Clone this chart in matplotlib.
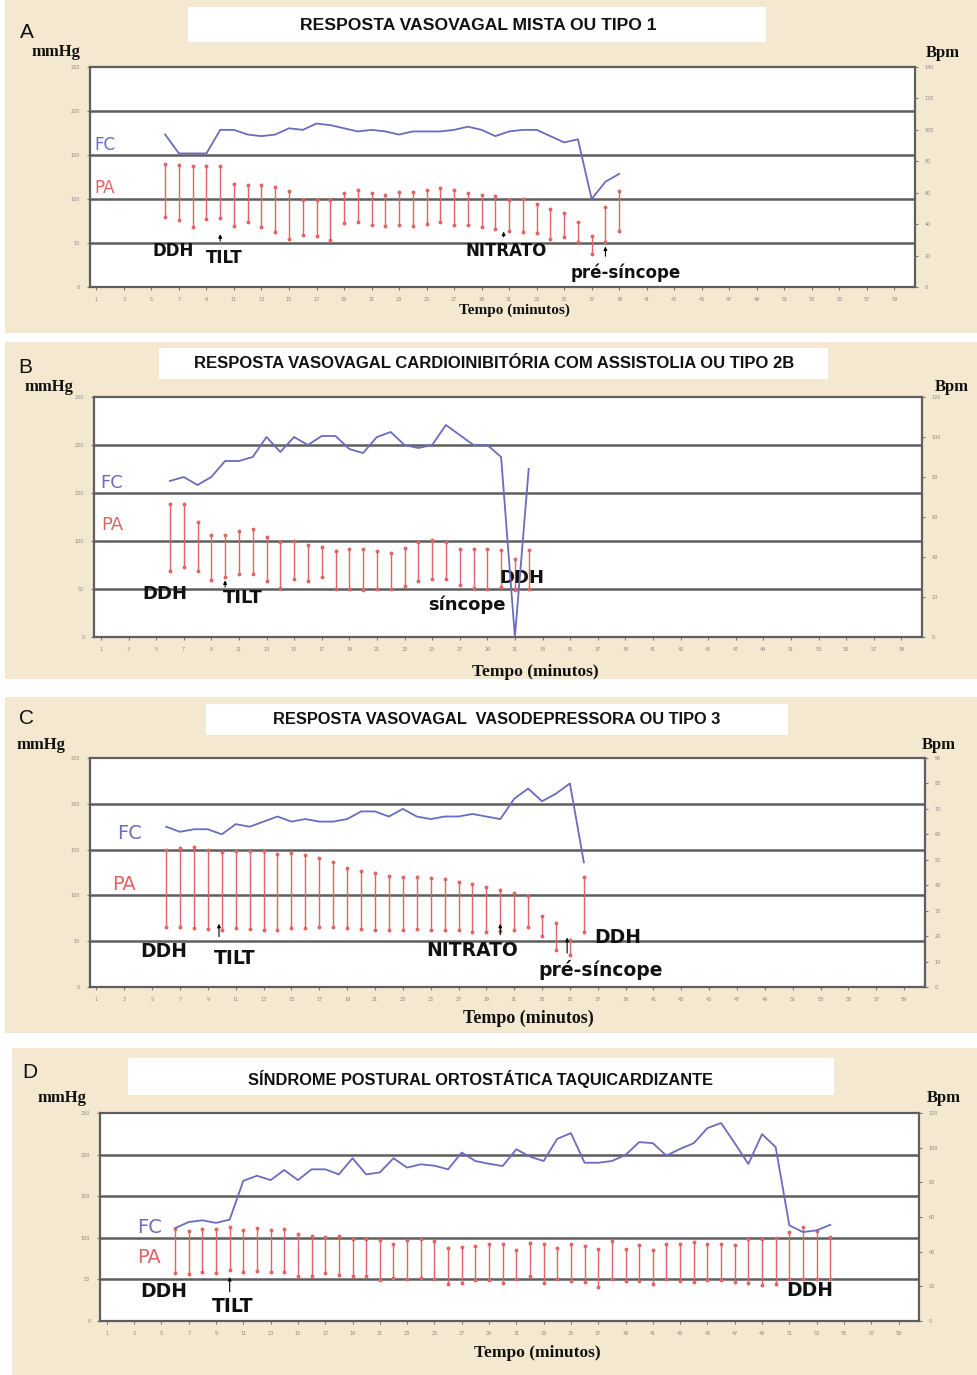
import matplotlib
matplotlib.use('Agg')
import matplotlib.pyplot as plt
from matplotlib.patches import Rectangle

W, H, DPI = 977, 1375, 100

# ---------------- data ----------------
# Panel A
min_A = list(range(6, 40))
fc_A = [97, 85, 85, 85, 100, 100, 97, 96, 97, 101, 100, 104, 103, 101, 99, 100, 99, 97,
        99, 99, 99, 100, 102, 100, 96, 99, 100, 100, 96, 92, 94, 56, 67, 72]
pas_A = [140, 139, 137, 137, 137, 117, 116, 116, 114, 109, 99, 99, 99, 107, 110, 107, 105,
         108, 108, 110, 113, 110, 107, 105, 103, 99, 100, 94, 89, 84, 74, 58, 91, 109]
pad_A = [80, 76, 68, 77, 78, 69, 74, 68, 62, 55, 59, 58, 53, 73, 74, 71, 69, 71, 69, 72,
         74, 71, 71, 68, 66, 64, 63, 61, 55, 57, 51, 38, 51, 64]

# Panel B
min_B = list(range(6, 33))
fc_B = [78, 80, 76, 80, 88, 88, 90, 100, 92.5, 100, 96, 100.5, 100.5, 94, 92, 100, 102.5,
        96, 94.5, 96, 106, 101, 96, 96, 90, 0, 84]
pas_B = [139, 139, 120, 106, 106, 110, 112, 104, 99, 100, 96, 94, 90, 92, 92, 90, 88, 93,
         99, 101, 99, 92, 92, 92, 91, 81, 91]
pad_B = [69, 73, 69, 59, 63, 66, 66, 58, 51, 60, 58, 62, 50, 50, 49, 50, 50, 53, 58, 60,
         60, 54, 51, 50, 52, 49, 50]

# Panel C
min_C = list(range(6, 37))
fc_C = [63, 61, 62, 62, 60, 64, 63, 65, 67, 65, 66, 65, 65, 66, 69, 69, 67, 70, 67, 66,
        67, 67, 68, 67, 66, 74, 78, 73, 76, 80, 49]
pas_C = [150, 152, 153, 150, 147, 148, 148, 148, 145, 146, 144, 141, 136, 130, 127, 124,
         121, 120, 120, 119, 118, 115, 112, 109, 106, 103, 99, 78, 70, 51, 120]
pad_C = [66, 65, 64, 63, 62, 64, 63, 62, 62, 64, 64, 65, 65, 64, 63, 62, 62, 62, 63, 62,
         62, 62, 60, 60, 61, 62, 66, 56, 40, 35, 60]

# Panel D
min_D = list(range(6, 55))
fc_D = [53.6, 57.1, 58.1, 56.6, 58.5, 80.9, 83.8, 81.3, 87.1, 81.3, 87.5, 87.5, 84.6, 93.9,
        84.6, 85.7, 93.9, 88.5, 90.4, 89.6, 87.5, 97.2, 92.3, 90.7, 89.4, 99.1, 94.8, 92.3,
        105.1, 108.4, 91.3, 91.3, 92.3, 95.8, 103.2, 102.6, 95.4, 99.3, 102.6, 111.3, 114.2,
        102.6, 90.6, 107.8, 100.3, 55.2, 51.3, 52.3, 55.5]
pas_D = [110, 108, 110, 111, 113, 109, 112, 109, 110, 104, 102, 101, 102, 99, 98, 97, 92,
         97, 98, 96, 88, 89, 90, 92, 92, 85, 94, 92, 88, 92, 90, 86, 96, 87, 91, 85, 92, 92,
         95, 92, 92, 91, 99, 98, 100, 107, 113, 108, 101]
pad_D = [58, 57, 59, 58, 61, 59, 60, 59, 59, 54, 54, 58, 55, 54, 54, 49, 52, 51, 52, 50,
         45, 46, 49, 49, 46, 50, 54, 46, 50, 48, 47, 41, 50, 48, 48, 44, 51, 48, 47, 49,
         49, 47, 46, 43, 44, 50, 50, 50, 50]

titles = ["RESPOSTA VASOVAGAL MISTA OU TIPO 1",
          "RESPOSTA VASOVAGAL CARDIOINIBITÓRIA COM ASSISTOLIA OU TIPO 2B",
          "RESPOSTA VASOVAGAL  VASODEPRESSORA OU TIPO 3",
          "SÍNDROME POSTURAL ORTOSTÁTICA TAQUICARDIZANTE"]
letters = ["A", "B", "C", "D"]
left_ticks = [0, 50, 100, 150, 200, 250]
right_ticks = [list(range(0, 141, 20)), list(range(0, 121, 20)),
               list(range(0, 91, 10)), list(range(0, 121, 20))]
x_ticks = list(range(1, 60, 2))

# ---------------- styling / layout ----------------
BEIGE = '#f4e9d0'
RED = '#e26464'
BLUE = '#6b6bbf'
GRID = '#5e5e5e'

fig = plt.figure(figsize=(W / DPI, H / DPI), dpi=DPI, facecolor='white')

def fx(x):
    return x / W

def fy(y):
    return 1 - y / H

def rect_px(x0, y0, x1, y1, color, z):
    fig.patches.append(Rectangle((fx(x0), fy(y1)), (x1 - x0) / W, (y1 - y0) / H,
                                 transform=fig.transFigure, facecolor=color,
                                 edgecolor='none', zorder=z))

panels = [
    dict(bg=(5, 0, 977, 333), tbox=(188, 7, 766, 42), tpos=(478, 26), tsize=12.6,
         letter=(27, 32), mm=(56, 52), bpm=(943, 53), tempo=(514, 310), tempo_size=11,
         ax=(89.5, 67, 915, 287)),
    dict(bg=(5, 342, 977, 679), tbox=(159, 348, 828, 379), tpos=(494, 364), tsize=12,
         letter=(25, 367), mm=(49, 387), bpm=(952, 387), tempo=(535, 672), tempo_size=12.5,
         ax=(94, 397, 922, 637)),
    dict(bg=(5, 697, 977, 1033), tbox=(206, 704, 788, 735), tpos=(497, 719), tsize=11.8,
         letter=(27, 718), mm=(41, 745), bpm=(939, 745), tempo=(528, 1018), tempo_size=13,
         ax=(89.5, 758, 925, 987)),
    dict(bg=(12, 1048, 977, 1375), tbox=(128, 1058, 834, 1095), tpos=(480, 1079), tsize=11.8,
         letter=(30, 1072), mm=(62, 1098), bpm=(944, 1098), tempo=(537, 1353), tempo_size=12.5,
         ax=(100, 1113, 919, 1321)),
]

data = [(min_A, fc_A, pas_A, pad_A), (min_B, fc_B, pas_B, pad_B),
        (min_C, fc_C, pas_C, pad_C), (min_D, fc_D, pas_D, pad_D)]

axes = []
for i, p in enumerate(panels):
    rect_px(*p['bg'], BEIGE, z=-3)
    rect_px(*p['tbox'], 'white', z=-2)
    fig.text(fx(p['tpos'][0]), fy(p['tpos'][1]), titles[i], ha='center', va='center',
             fontsize=p['tsize'], fontweight='bold', family='Liberation Sans', color='#111')
    fig.text(fx(p['letter'][0]), fy(p['letter'][1]), letters[i], ha='center', va='center',
             fontsize=15, family='Liberation Sans', color='#111')
    fig.text(fx(p['mm'][0]), fy(p['mm'][1]), 'mmHg', ha='center', va='center',
             fontsize=12, fontweight='bold', family='Liberation Serif', color='#111')
    fig.text(fx(p['bpm'][0]), fy(p['bpm'][1]), 'Bpm', ha='center', va='center',
             fontsize=12, fontweight='bold', family='Liberation Serif', color='#111')
    fig.text(fx(p['tempo'][0]), fy(p['tempo'][1]), 'Tempo (minutos)', ha='center',
             va='center', fontsize=p['tempo_size'], fontweight='bold',
             family='Liberation Serif', color='#111')

    x0, y0, x1, y1 = p['ax']
    ax = fig.add_axes([fx(x0), fy(y1), (x1 - x0) / W, (y1 - y0) / H])
    ax.set_zorder(1)
    ax.set_facecolor('white')
    ax.set_xlim(0.5, 60.5)
    ax.set_ylim(0, 250)
    for s in ax.spines.values():
        s.set_color(GRID)
        s.set_linewidth(1.6)
    ax.set_yticks(left_ticks)
    ax.set_yticklabels([str(t) for t in left_ticks], fontsize=3.5, color='#888')
    ax.set_xticks(x_ticks)
    ax.set_xticklabels([str(t) for t in x_ticks], fontsize=3.5, color='#888')
    ax.tick_params(length=2, width=0.8, color='#777', pad=5)
    for g in left_ticks[1:-1]:
        ax.axhline(g, color=GRID, lw=1.8, zorder=1)

    mins, fc, pas, pad = data[i]
    ax.vlines(mins, pad, pas, color=RED, lw=1.0, zorder=3)
    ax.plot(mins, pas, ls='none', marker='o', ms=1.8, color=RED, zorder=3)
    ax.plot(mins, pad, ls='none', marker='o', ms=1.8, color=RED, zorder=3)

    ax2 = ax.twinx()
    ax2.set_zorder(2)
    ax2.patch.set_visible(False)
    ax2.set_ylim(0, right_ticks[i][-1])
    ax2.set_yticks(right_ticks[i])
    ax2.set_yticklabels([str(t) for t in right_ticks[i]], fontsize=3.5, color='#888')
    ax2.tick_params(length=2, width=0.8, color='#777', pad=5)
    for s in ax2.spines.values():
        s.set_visible(False)
    ax2.plot(mins, fc, color=BLUE, lw=1.3, zorder=4)
    axes.append(ax)

# ---------------- annotations ----------------
def label(ax, x, y, s, size, color='#111', weight='bold'):
    ax.text(x, y, s, ha='center', va='center', fontsize=size, fontweight=weight,
            color=color, family='DejaVu Sans', zorder=5)

def arrow(ax, x, y_tail, y_tip):
    ax.annotate('', xy=(x, y_tip), xytext=(x, y_tail),
                arrowprops=dict(arrowstyle='-|>', color='black', lw=0.8,
                                mutation_scale=5, shrinkA=0, shrinkB=0), zorder=5)

axA, axB, axC, axD = axes
# A
label(axA, 1.6, 161, 'FC', 12, BLUE, 'normal')
label(axA, 1.6, 112, 'PA', 12, RED, 'normal')
label(axA, 6.6, 41, 'DDH', 12)
label(axA, 10.3, 33, 'TILT', 12)
arrow(axA, 10, 52, 60)
label(axA, 30.8, 41, 'NITRATO', 12)
arrow(axA, 30.6, 57, 63)
label(axA, 39.5, 16, 'pré-síncope', 12)
arrow(axA, 38, 35, 46)
# B
label(axB, 1.8, 160, 'FC', 13, BLUE, 'normal')
label(axB, 1.8, 117, 'PA', 13, RED, 'normal')
label(axB, 5.6, 45, 'DDH', 13)
label(axB, 11.3, 41, 'TILT', 13)
arrow(axB, 10, 52, 59)
label(axB, 27.5, 34, 'síncope', 13)
label(axB, 31.5, 61, 'DDH', 13)
# C
label(axC, 3.4, 168, 'FC', 14, BLUE, 'normal')
label(axC, 3.0, 112, 'PA', 14, RED, 'normal')
label(axC, 5.8, 39, 'DDH', 13.5)
label(axC, 10.9, 31, 'TILT', 13.5)
arrow(axC, 9.8, 55, 69)
label(axC, 28.0, 40, 'NITRATO', 13.5)
arrow(axC, 30, 57, 69)
label(axC, 37.2, 19, 'pré-síncope', 13.5)
arrow(axC, 34.8, 37, 54)
label(axC, 38.4, 54, 'DDH', 13.5)
# D
label(axD, 4.1, 112, 'FC', 14, BLUE, 'normal')
label(axD, 4.1, 76, 'PA', 14, RED, 'normal')
label(axD, 5.2, 35, 'DDH', 13.5)
label(axD, 10.2, 18, 'TILT', 13.5)
arrow(axD, 10, 35, 53)
label(axD, 52.5, 37, 'DDH', 13.5)

fig.savefig('out.png', dpi=DPI, facecolor='white')
